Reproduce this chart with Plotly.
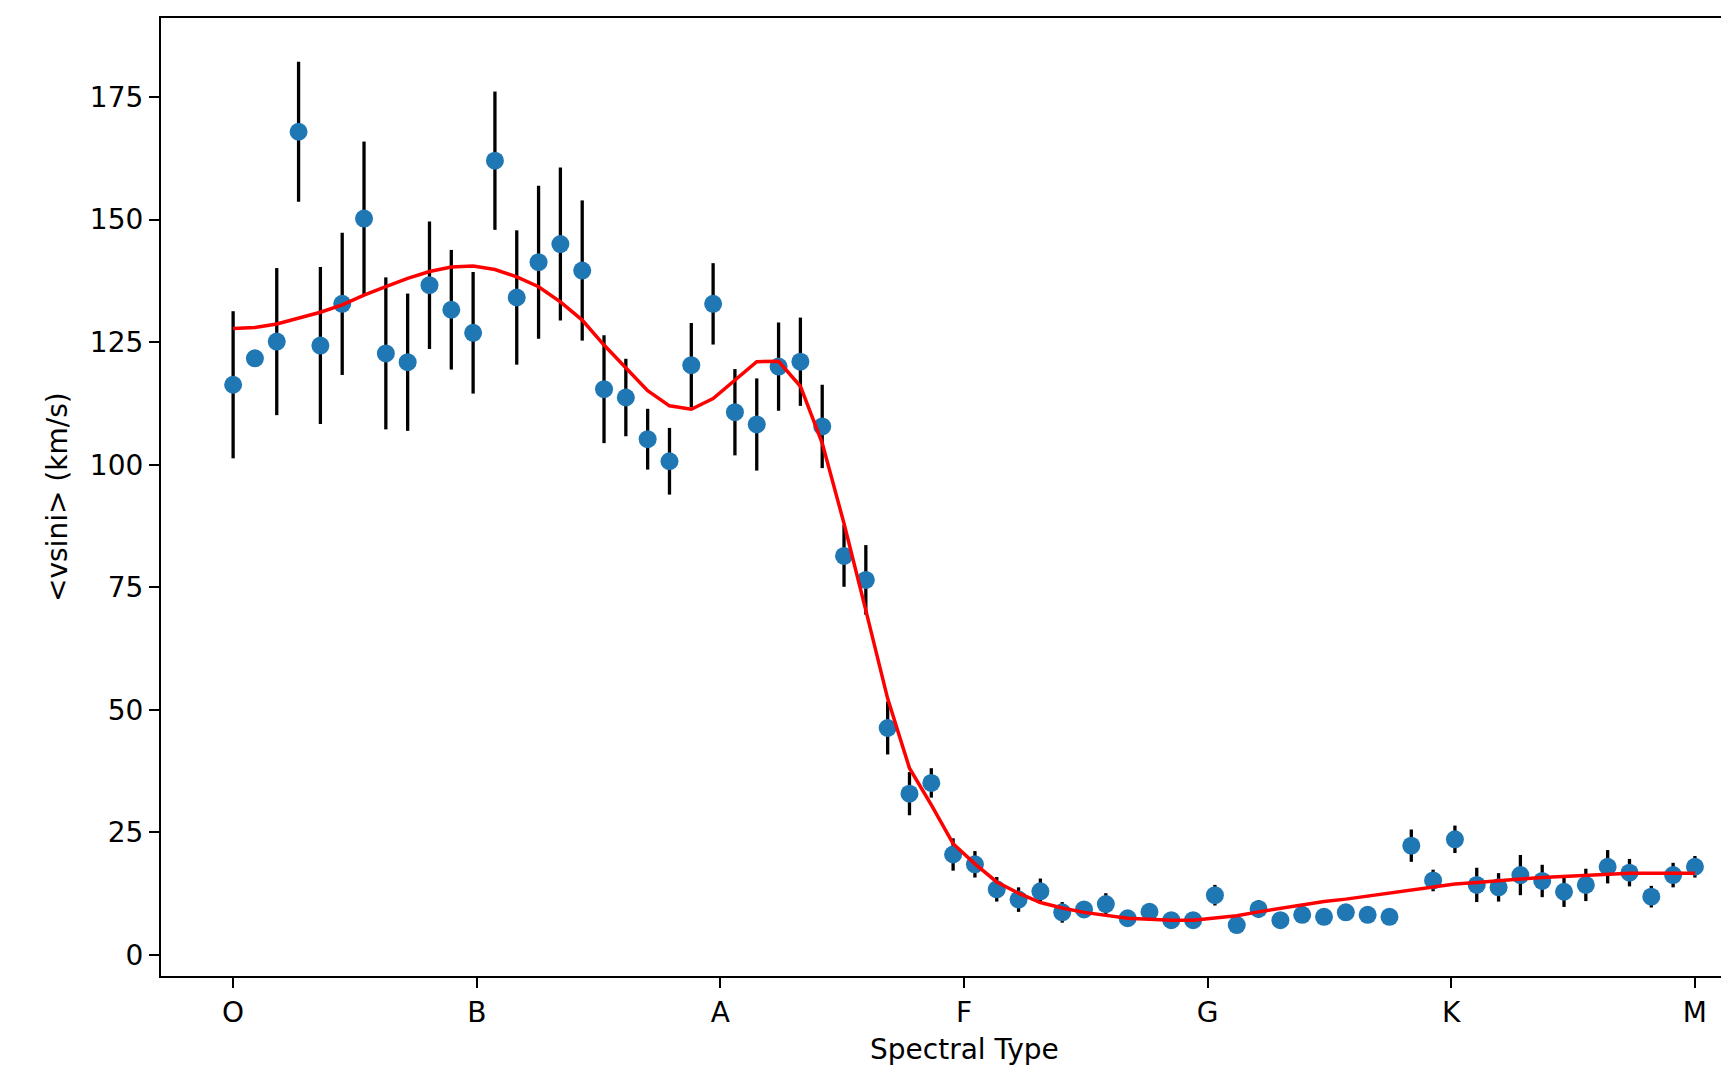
import numpy as np
import plotly.graph_objects as go

# Spectral-type grid (68 bins from O to M)
spectral_x = np.linspace(0, 60, 68)
tick_positions = [0, 10, 20, 30, 40, 50, 60]
tick_labels = ["O", "B", "A", "F", "G", "K", "M"]
y_ticks = [0, 25, 50, 75, 100, 125, 150, 175]

vsini_mean = [
    116.3, 121.7, 125.1, 167.9, 124.3, 132.8, 150.2, 122.7, 120.9, 136.6,
    131.6, 126.9, 162.0, 134.1, 141.3, 145.0, 139.6, 115.4, 113.7, 105.2,
    100.7, 120.3, 132.8, 110.7, 108.2, 120.0, 121.0, 107.8, 81.4, 76.5,
    46.3, 32.9, 35.1, 20.5, 18.5, 13.4, 11.3, 13.0, 8.7, 9.3,
    10.4, 7.5, 8.8, 7.1, 7.1, 12.2, 6.1, 9.4, 7.1, 8.2,
    7.8, 8.7, 8.2, 7.8, 22.3, 15.2, 23.6, 14.3, 13.8, 16.3,
    15.1, 12.9, 14.3, 18.0, 16.8, 11.9, 16.3, 18.0,
]

vsini_err = [
    15.0, 1.5, 15.0, 14.3, 16.0, 14.5, 15.7, 15.5, 14.0, 13.0,
    12.2, 12.4, 14.1, 13.7, 15.6, 15.6, 14.3, 11.0, 7.9, 6.2,
    6.8, 8.6, 8.3, 8.8, 9.4, 9.0, 9.0, 8.5, 6.3, 7.1,
    5.4, 4.4, 3.0, 3.3, 2.7, 2.5, 2.5, 2.6, 2.1, 1.5,
    2.2, 1.5, 1.5, 1.5, 1.5, 2.1, 1.5, 1.8, 1.5, 1.5,
    1.5, 1.5, 1.5, 1.5, 3.3, 2.2, 2.8, 3.5, 2.9, 4.1,
    3.3, 3.1, 3.3, 3.4, 2.8, 2.2, 2.5, 2.2,
]

vsini_smooth = [
    127.8, 128.0, 128.7, 129.9, 131.1, 132.6, 134.6, 136.3, 138.0, 139.4,
    140.3, 140.5, 139.8, 138.3, 136.3, 133.2, 129.5, 124.4, 119.7, 115.1,
    112.0, 111.3, 113.5, 117.3, 121.0, 121.1, 116.0, 104.4, 88.0, 70.3,
    52.3, 38.1, 30.6, 22.7, 18.6, 14.9, 12.6, 10.7, 9.6, 8.7,
    8.1, 7.5, 7.3, 7.1, 7.1, 7.5, 8.0, 8.8, 9.5, 10.2,
    10.9, 11.4, 12.0, 12.7, 13.3, 13.9, 14.5, 14.8, 15.2, 15.5,
    15.8, 16.0, 16.3, 16.5, 16.7, 16.7, 16.7, 16.7,
]

FONT = "DejaVu Sans"
FS = 28

fig = go.Figure()
fig.add_trace(go.Scatter(
    x=spectral_x, y=vsini_mean, mode="markers",
    marker=dict(color="#1f77b4", size=18, line=dict(width=0)),
    error_y=dict(type="data", array=vsini_err, visible=True,
                 color="black", thickness=3.3, width=0),
    showlegend=False,
))
fig.add_trace(go.Scatter(
    x=spectral_x, y=vsini_smooth, mode="lines",
    line=dict(color="red", width=3.5),
    showlegend=False,
))

fig.update_layout(
    width=1713, height=1060,
    margin=dict(l=153, r=0, t=10, b=92),
    paper_bgcolor="white", plot_bgcolor="white",
    font=dict(family=FONT, size=FS, color="black"),
    xaxis=dict(
        range=[-2.96, 61.07], tickvals=tick_positions, ticktext=tick_labels,
        showgrid=False, zeroline=False, showline=True, linecolor="black",
        linewidth=2.2, mirror=True, ticks="outside", ticklen=10,
        tickwidth=2.2, tickcolor="black",
        tickfont=dict(family=FONT, size=FS, color="black"),
    ),
    yaxis=dict(
        range=[-4.28, 191.1], tickvals=y_ticks,
        showgrid=False, zeroline=False, showline=True, linecolor="black",
        linewidth=2.2, mirror=False, ticks="outside", ticklen=10,
        tickwidth=2.2, tickcolor="black",
        tickfont=dict(family=FONT, size=FS, color="black"),
    ),
    annotations=[
        dict(text="Spectral Type", xref="x", x=30, yref="paper", y=0,
             yanchor="middle", xanchor="center", yshift=-73, showarrow=False,
             font=dict(family=FONT, size=FS, color="black")),
        dict(text="<vsini> (km/s)", xref="paper", x=0, yref="paper", y=0.5,
             xanchor="center", yanchor="middle", xshift=-104, textangle=-90,
             showarrow=False, font=dict(family=FONT, size=FS, color="black")),
    ],
)

fig.write_html("out.html")
